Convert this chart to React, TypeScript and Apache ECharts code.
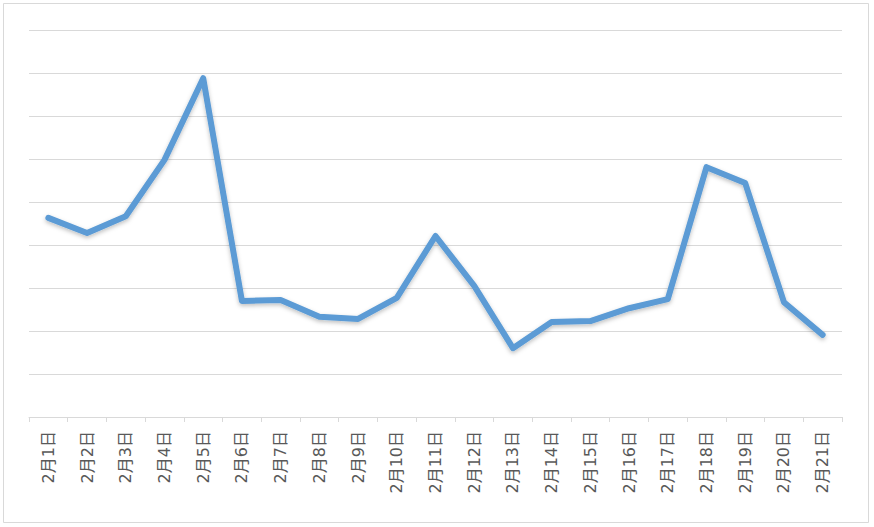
import React, { useEffect, useRef } from "react";
import * as echarts from "echarts";

const categories = [
  "2月1日", "2月2日", "2月3日", "2月4日", "2月5日", "2月6日", "2月7日",
  "2月8日", "2月9日", "2月10日", "2月11日", "2月12日", "2月13日", "2月14日",
  "2月15日", "2月16日", "2月17日", "2月18日", "2月19日", "2月20日", "2月21日",
];

const values = [
  4.63, 4.28, 4.67, 5.98, 7.88, 2.7, 2.72, 2.33, 2.28, 2.77, 4.21, 3.05,
  1.6, 2.21, 2.23, 2.53, 2.74, 5.81, 5.44, 2.67, 1.91,
];

const yMin = 0;
const yMax = 9;
const yInterval = 1;

export default function App() {
  const ref = useRef<HTMLDivElement>(null);
  useEffect(() => {
    if (!ref.current) return;
    const chart = echarts.init(ref.current, null, { renderer: "svg" });
    chart.setOption({
      animation: false,
      backgroundColor: "#ffffff",
      graphic: [
        {
          type: "rect",
          shape: { x: 3.5, y: 3.5, width: 865, height: 519 },
          style: { fill: "none", stroke: "#d9d9d9", lineWidth: 1 },
          silent: true,
        },
      ],
      grid: { left: 29, right: 32, top: 30, bottom: 110, containLabel: false },
      xAxis: {
        type: "category",
        data: categories,
        boundaryGap: true,
        axisLine: { show: true, lineStyle: { color: "#d9d9d9", width: 1 } },
        axisTick: { show: true, length: 5, alignWithLabel: false, lineStyle: { color: "#d9d9d9" } },
        axisLabel: {
          rotate: 90,
          interval: 0,
          margin: 14,
          fontSize: 16,
          color: "#595959",
          fontFamily: "'DejaVu Sans', 'Noto Sans CJK JP', sans-serif",
        },
        splitLine: { show: false },
      },
      yAxis: {
        type: "value",
        min: yMin,
        max: yMax,
        interval: yInterval,
        axisLine: { show: false },
        axisTick: { show: false },
        axisLabel: { show: false },
        splitLine: { show: true, lineStyle: { color: "#d9d9d9", width: 1 } },
      },
      series: [
        {
          type: "line",
          data: values,
          symbol: "none",
          lineStyle: {
            color: "#5B9BD5",
            width: 6,
            join: "round",
            cap: "round",
            shadowColor: "rgba(0,0,0,0.25)",
            shadowBlur: 4,
            shadowOffsetY: 2,
          },
        },
      ],
    });
    return () => chart.dispose();
  }, []);
  return (
    <div
      ref={ref}
      style={{ position: "fixed", left: 0, top: 0, width: 874, height: 527 }}
    />
  );
}
